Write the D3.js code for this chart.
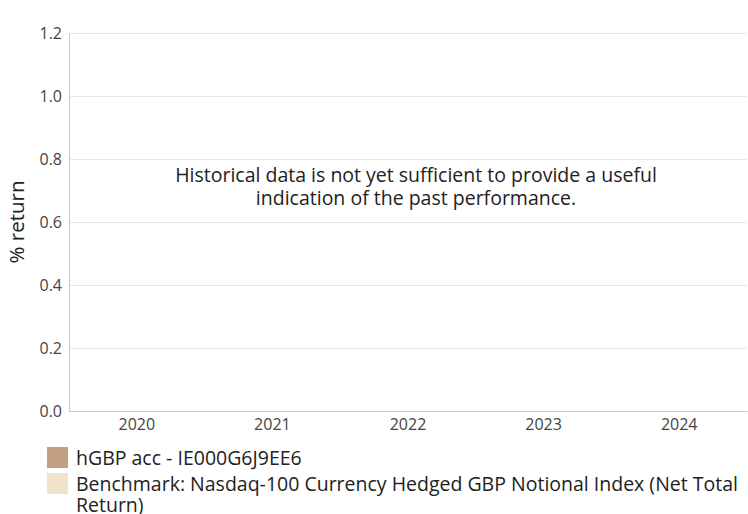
<!DOCTYPE html>
<html>
<head>
<meta charset="utf-8">
<script src="https://cdn.jsdelivr.net/npm/d3@7"></script>
<style>
  body { margin: 0; background: #fff; overflow: hidden; }
  text { font-family: "Open Sans", "Noto Sans", sans-serif; }
</style>
</head>
<body>
<div id="chart"></div>
<script>
// categories and values (no performance data yet)
const years = ["2020", "2021", "2022", "2023", "2024"];
const fundValues = [null, null, null, null, null];
const benchValues = [null, null, null, null, null];
const yTicks = [0, 0.2, 0.4, 0.6, 0.8, 1.0, 1.2];
const seriesNames = ["hGBP acc - IE000G6J9EE6",
  "Benchmark: Nasdaq-100 Currency Hedged GBP Notional Index (Net Total Return)"];
const seriesColors = ["#c2a182", "#efe4c9"];
const message = ["Historical data is not yet sufficient to provide a useful",
  "indication of the past performance."];

const width = 748, height = 514;
const margin = {top: 33, right: 1, bottom: 103, left: 69};
const innerW = width - margin.left - margin.right;
const innerH = height - margin.top - margin.bottom;

const svg = d3.select("#chart").append("svg")
  .attr("width", width)
  .attr("height", height);

const g = svg.append("g")
  .attr("transform", "translate(" + margin.left + "," + margin.top + ")");

const x = d3.scaleBand().domain(years).range([0, innerW]);
const y = d3.scaleLinear().domain([0, 1.2]).range([innerH, 0]);

// gridlines
g.append("g")
  .selectAll("line")
  .data(yTicks.slice(1))
  .enter()
  .append("line")
    .attr("x1", 0)
    .attr("x2", innerW)
    .attr("y1", d => y(d) + 0.5)
    .attr("y2", d => y(d) + 0.5)
    .attr("stroke", "#e6e6e6");

// y axis
const yAxis = g.append("g")
  .call(d3.axisLeft(y).tickValues(yTicks).tickFormat(d3.format(".1f")).tickSize(0).tickPadding(7));
yAxis.select(".domain").attr("stroke", "#c8c8c8");
yAxis.selectAll("text").attr("font-size", 16).attr("fill", "#444")
  .attr("font-family", "'Open Sans', sans-serif");

// x axis
const xAxis = g.append("g")
  .attr("transform", "translate(0," + innerH + ")")
  .call(d3.axisBottom(x).tickSize(0).tickPadding(8));
xAxis.select(".domain").attr("stroke", "#c8c8c8");
xAxis.selectAll("text").attr("font-size", 16).attr("fill", "#444")
  .attr("font-family", "'Open Sans', sans-serif");

// bars (empty data)
const bw = x.bandwidth() / 4;
[fundValues, benchValues].forEach(function(vals, s) {
  g.append("g")
    .selectAll("rect")
    .data(years.map((yr, i) => ({yr: yr, v: vals[i]})).filter(d => d.v != null))
    .enter()
    .append("rect")
      .attr("x", d => x(d.yr) + x.bandwidth() / 2 - bw + s * bw)
      .attr("y", d => y(Math.max(0, d.v)))
      .attr("width", bw)
      .attr("height", d => Math.abs(y(d.v) - y(0)))
      .attr("fill", seriesColors[s]);
});

// y axis title
svg.append("text")
  .attr("transform", "translate(24," + (margin.top + innerH / 2) + ") rotate(-90)")
  .attr("text-anchor", "middle")
  .attr("font-size", 20.5)
  .attr("fill", "#222")
  .text("% return");

// no-data message
svg.append("g")
  .selectAll("text")
  .data(message)
  .enter()
  .append("text")
    .attr("x", 416)
    .attr("y", (d, i) => 182 + i * 23)
    .attr("text-anchor", "middle")
    .attr("font-size", 19.5)
    .attr("fill", "#222")
    .text(d => d);

// legend
const legend = svg.append("g").attr("transform", "translate(47,447)");
const lines = [[seriesNames[0]],
  ["Benchmark: Nasdaq-100 Currency Hedged GBP Notional Index (Net Total", "Return)"]];
lines.forEach(function(ls, i) {
  const item = legend.append("g").attr("transform", "translate(0," + (i * 26) + ")");
  item.append("rect")
    .attr("width", 21)
    .attr("height", 21)
    .attr("fill", seriesColors[i]);
  item.selectAll("text")
    .data(ls)
    .enter()
    .append("text")
      .attr("x", 29)
      .attr("y", (d, j) => 18 + j * 21)
      .attr("font-size", 19.5)
      .attr("fill", "#222")
      .text(d => d);
});
</script>
</body>
</html>
